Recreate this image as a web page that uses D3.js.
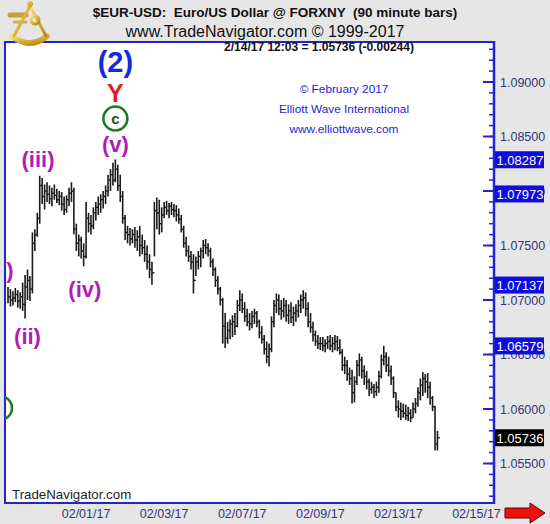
<!DOCTYPE html>
<html><head><meta charset="utf-8">
<script src="https://cdn.jsdelivr.net/npm/d3@7"></script>
<style>
html,body{margin:0;padding:0;background:#e6e6e6;}
svg{display:block;font-family:"Liberation Sans",Arial,sans-serif;}
</style></head>
<body>
<script>
// ---- DATA ----
const highs = [1.0712,1.0710,1.0708,1.0711,1.0709,1.0707,1.0716,1.0723,1.0728,1.0722,
1.0762,1.0765,1.0780,1.0814,1.0812,1.0806,1.0808,1.0805,1.0803,1.0806,
1.0802,1.0800,1.0799,1.0795,1.0796,1.0803,1.0808,1.0803,1.0770,1.0760,
1.0758,1.0752,1.0790,1.0780,1.0778,1.0785,1.0790,1.0795,1.0797,1.0800,
1.0805,1.0815,1.0820,1.0826,1.0829,1.0824,1.0815,1.0800,1.0778,1.0768,
1.0766,1.0765,1.0767,1.0764,1.0768,1.0760,1.0755,1.0750,1.0742,1.0735,
1.0790,1.0794,1.0792,1.0785,1.0790,1.0791,1.0789,1.0790,1.0788,1.0787,
1.0784,1.0778,1.0768,1.0758,1.0750,1.0745,1.0742,1.0740,1.0745,1.0748,
1.0755,1.0756,1.0752,1.0748,1.0738,1.0730,1.0722,1.0712,1.0702,1.0688,
1.0680,1.0682,1.0686,1.0688,1.0700,1.0709,1.0706,1.0698,1.0692,1.0688,
1.0690,1.0692,1.0690,1.0682,1.0676,1.0668,1.0662,1.0660,1.0685,1.0700,
1.0706,1.0705,1.0700,1.0702,1.0700,1.0696,1.0698,1.0694,1.0696,1.0700,
1.0705,1.0709,1.0707,1.0698,1.0688,1.0680,1.0672,1.0668,1.0666,1.0666,
1.0664,1.0667,1.0668,1.0666,1.0668,1.0667,1.0664,1.0655,1.0648,1.0645,
1.0638,1.0636,1.0630,1.0645,1.0651,1.0648,1.0640,1.0635,1.0628,1.0625,
1.0623,1.0625,1.0635,1.0650,1.0658,1.0652,1.0648,1.0640,1.0630,1.0615,
1.0608,1.0606,1.0605,1.0604,1.0602,1.0600,1.0606,1.0610,1.0620,1.0628,
1.0634,1.0632,1.0633,1.0625,1.0612,1.0603,1.0580];
const lows = [1.0697,1.0694,1.0695,1.0698,1.0693,1.0692,1.0690,1.0683,1.0700,1.0699,
1.0706,1.0745,1.0758,1.0770,1.0788,1.0783,1.0790,1.0788,1.0786,1.0792,
1.0789,1.0787,1.0782,1.0778,1.0780,1.0786,1.0790,1.0760,1.0745,1.0740,
1.0738,1.0731,1.0738,1.0762,1.0760,1.0765,1.0773,1.0778,1.0780,1.0784,
1.0788,1.0795,1.0800,1.0805,1.0808,1.0800,1.0790,1.0770,1.0755,1.0752,
1.0750,1.0752,1.0748,1.0745,1.0740,1.0742,1.0735,1.0728,1.0720,1.0714,
1.0740,1.0765,1.0760,1.0762,1.0775,1.0778,1.0775,1.0778,1.0776,1.0772,
1.0770,1.0762,1.0748,1.0740,1.0735,1.0728,1.0706,1.0722,1.0728,1.0730,
1.0738,1.0742,1.0740,1.0730,1.0722,1.0712,1.0705,1.0695,1.0660,1.0656,
1.0660,1.0664,1.0666,1.0668,1.0675,1.0690,1.0688,1.0680,1.0676,1.0672,
1.0674,1.0678,1.0675,1.0665,1.0660,1.0650,1.0642,1.0639,1.0652,1.0675,
1.0688,1.0686,1.0682,1.0684,1.0680,1.0678,1.0679,1.0676,1.0680,1.0684,
1.0688,1.0692,1.0685,1.0675,1.0670,1.0662,1.0658,1.0655,1.0654,1.0653,
1.0652,1.0655,1.0654,1.0652,1.0654,1.0653,1.0650,1.0635,1.0632,1.0626,
1.0622,1.0605,1.0606,1.0622,1.0630,1.0628,1.0622,1.0618,1.0612,1.0614,
1.0610,1.0612,1.0615,1.0628,1.0640,1.0634,1.0630,1.0622,1.0610,1.0598,
1.0592,1.0590,1.0592,1.0590,1.0589,1.0588,1.0592,1.0596,1.0602,1.0608,
1.0612,1.0615,1.0610,1.0604,1.0598,1.0562,1.0562];
const closes = [1.0703,1.0700,1.0702,1.0705,1.0699,1.0703,1.0696,1.0712,1.0718,1.0710,
1.0752,1.0760,1.0775,1.0805,1.0795,1.0800,1.0797,1.0793,1.0798,1.0796,
1.0792,1.0795,1.0788,1.0783,1.0792,1.0798,1.0800,1.0765,1.0752,1.0755,
1.0745,1.0740,1.0775,1.0770,1.0768,1.0780,1.0785,1.0788,1.0792,1.0795,
1.0800,1.0810,1.0815,1.0810,1.0820,1.0805,1.0795,1.0775,1.0762,1.0760,
1.0756,1.0760,1.0755,1.0758,1.0750,1.0748,1.0742,1.0735,1.0728,1.0725,
1.0782,1.0780,1.0770,1.0778,1.0785,1.0782,1.0786,1.0783,1.0782,1.0778,
1.0774,1.0765,1.0752,1.0745,1.0740,1.0735,1.0718,1.0735,1.0740,1.0745,
1.0750,1.0748,1.0745,1.0735,1.0728,1.0718,1.0710,1.0700,1.0676,1.0665,
1.0672,1.0678,1.0680,1.0676,1.0695,1.0700,1.0692,1.0685,1.0680,1.0678,
1.0685,1.0688,1.0680,1.0670,1.0664,1.0655,1.0648,1.0655,1.0680,1.0695,
1.0700,1.0692,1.0690,1.0695,1.0686,1.0690,1.0684,1.0688,1.0690,1.0695,
1.0700,1.0702,1.0692,1.0680,1.0675,1.0668,1.0662,1.0660,1.0660,1.0658,
1.0660,1.0662,1.0658,1.0660,1.0662,1.0656,1.0652,1.0640,1.0640,1.0632,
1.0628,1.0615,1.0625,1.0640,1.0645,1.0635,1.0630,1.0625,1.0618,1.0620,
1.0616,1.0620,1.0630,1.0645,1.0648,1.0640,1.0635,1.0628,1.0615,1.0602,
1.0600,1.0598,1.0596,1.0594,1.0596,1.0592,1.0600,1.0605,1.0615,1.0622,
1.0628,1.0625,1.0620,1.0610,1.0602,1.0568,1.05736];

const yTicks = [1.055,1.06,1.065,1.07,1.075,1.08,1.085,1.09];
const dateLabels = ["02/01/17","02/03/17","02/07/17","02/09/17","02/13/17","02/15/17"];
const dateBarIndex = [32,64,96,128,160,192];
const markValues = [1.08287,1.07973,1.07137,1.06579,1.05736];
const markColors = ["#0c0ce0","#0c0ce0","#0c0ce0","#0c0ce0","#000000"];
const waveLabels = ["(i)","(ii)","(iii)","(iv)","(v)"];
const waveBarIndex = [-2,8,12.3,31.5,44];
const waveValues = [1.0720,1.0660,1.0822,1.0703,1.0836];
const titleText = "$EUR-USD:  Euro/US Dollar @ FORXNY  (90 minute bars)";
const subtitleText = "www.TradeNavigator.com \u00A9 1999-2017";
const lastText = "2/14/17 12:03 = 1.05736 (-0.00244)";
const creditLines = ["\u00A9 February 2017","Elliott Wave International","www.elliottwave.com"];

// ---- LAYOUT ----
const W = 550, H = 524;
const plot = {left:5, top:42, right:494, bottom:503};
const svg = d3.select("body").append("svg").attr("width",W).attr("height",H);
svg.append("rect").attr("width",W).attr("height",H).attr("fill","#e6e6e6");

const x = d3.scaleLinear().domain([0,192]).range([8, 8+192*2.44]);
const y = d3.scaleLinear().domain([1.055,1.09]).range([463.5,82]);

const defs = svg.append("defs");
defs.append("clipPath").attr("id","clip").append("rect")
  .attr("x",plot.left).attr("y",plot.top).attr("width",plot.right-plot.left).attr("height",plot.bottom-plot.top);
const grad = defs.append("linearGradient").attr("id","gold").attr("x1",0).attr("y1",0).attr("x2",1).attr("y2",1);
grad.append("stop").attr("offset","0%").attr("stop-color","#f8e27a");
grad.append("stop").attr("offset","100%").attr("stop-color","#b8860b");

// plot background
svg.append("rect").attr("x",plot.left).attr("y",plot.top)
  .attr("width",plot.right-plot.left).attr("height",plot.bottom-plot.top)
  .attr("fill","#ffffff").attr("stroke","#2424c8").attr("stroke-width",2);

// logo (sextant)
const logo = svg.append("g").attr("fill","none").attr("stroke","url(#gold)").attr("stroke-linecap","round");
logo.append("path").attr("d","M12,36 Q30,50 47,36").attr("stroke-width",6);
logo.append("path").attr("d","M10,15 L26,15").attr("stroke-width",5).attr("stroke","#c8a030");
logo.append("path").attr("d","M14,22 L26,22").attr("stroke-width",3).attr("stroke","#d8b040");
logo.append("path").attr("d","M30,3 L30,42").attr("stroke-width",4);
logo.append("path").attr("d","M30,6 L46,36").attr("stroke-width",3);
logo.append("path").attr("d","M30,6 L14,36").attr("stroke-width",3);
logo.append("circle").attr("cx",35).attr("cy",20).attr("r",4).attr("stroke-width",3);
logo.append("circle").attr("cx",30).attr("cy",4).attr("r",2.5).attr("fill","#d8b040").attr("stroke-width",1);

// header text
svg.append("text").attr("x",275).attr("y",17).attr("text-anchor","middle")
  .attr("font-size",13.5).attr("font-weight","bold").attr("fill","#111")
  .style("white-space","pre").text(titleText);
svg.append("text").attr("x",265).attr("y",37).attr("text-anchor","middle")
  .attr("font-size",16).attr("fill","#111").text(subtitleText);

const g = svg.append("g").attr("clip-path","url(#clip)");

g.append("text").attr("x",319).attr("y",51).attr("text-anchor","middle")
  .attr("font-size",12).attr("font-weight","bold").attr("fill","#111").text(lastText);

// credits
creditLines.forEach((t,i)=>{
  g.append("text").attr("x",344).attr("y",93+i*20).attr("text-anchor","middle")
    .attr("font-size",11.8).attr("fill","#1c1ce0").text(t);
});

// bars
const idx = d3.range(highs.length);
const barG = g.append("g").attr("stroke","#1a1a1a").attr("stroke-width",1.6);
barG.selectAll("line.hl").data(idx).join("line").attr("class","hl")
  .attr("x1",i=>x(i)).attr("x2",i=>x(i))
  .attr("y1",i=>y(highs[i])).attr("y2",i=>y(lows[i]));
barG.selectAll("line.cl").data(idx).join("line").attr("class","cl")
  .attr("x1",i=>x(i)).attr("x2",i=>x(i)+2.4)
  .attr("y1",i=>y(closes[i])).attr("y2",i=>y(closes[i])).attr("stroke-width",1.4);

// wave labels
const waveG = g.append("g").attr("font-weight","bold").attr("fill","#b01cbc").attr("text-anchor","middle");
waveLabels.forEach((t,i)=>{
  waveG.append("text").attr("x",x(waveBarIndex[i])).attr("y",y(waveValues[i]))
    .attr("font-size",22).text(t);
});
// circle c, Y, (2)
const peakX = x(44);
g.append("circle").attr("cx",peakX).attr("cy",118.5).attr("r",12)
  .attr("fill","none").attr("stroke","#1e7a1e").attr("stroke-width",2.5);
g.append("text").attr("x",peakX).attr("y",123.5).attr("text-anchor","middle")
  .attr("font-size",15).attr("font-weight","bold").attr("fill","#1e5a1e").text("c");
g.append("text").attr("x",peakX).attr("y",102).attr("text-anchor","middle")
  .attr("font-size",25).attr("font-weight","bold").attr("fill","#e41e1e").text("Y");
g.append("text").attr("x",peakX).attr("y",72).attr("text-anchor","middle")
  .attr("font-size",29).attr("font-weight","bold").attr("fill","#1428e0").text("(2)");
// partial green circle at left edge
g.append("circle").attr("cx",0).attr("cy",408).attr("r",12)
  .attr("fill","none").attr("stroke","#1e7a1e").attr("stroke-width",2.5);

// footer text
svg.append("text").attr("x",12).attr("y",499).attr("font-size",13.3).attr("fill","#222").text("TradeNavigator.com");

// y axis
const axisColor = "#2424c8";
const minor = d3.range(1.052,1.0941,0.001).filter(v=>v>=1.0515&&v<=1.0935);
svg.append("g").selectAll("line").data(minor).join("line")
  .attr("x1",plot.right-5).attr("x2",plot.right).attr("y1",d=>y(d)).attr("y2",d=>y(d))
  .attr("stroke",axisColor).attr("stroke-width",1.5);
svg.append("g").selectAll("line").data(yTicks).join("line")
  .attr("x1",plot.right-11).attr("x2",plot.right).attr("y1",d=>y(d)).attr("y2",d=>y(d))
  .attr("stroke",axisColor).attr("stroke-width",2);
svg.append("line").attr("x1",plot.right).attr("x2",plot.right).attr("y1",plot.top-1).attr("y2",plot.bottom+1)
  .attr("stroke",axisColor).attr("stroke-width",2.5);
svg.append("g").selectAll("text").data(yTicks).join("text")
  .attr("x",500).attr("y",d=>y(d)+4.5).attr("font-size",12.5).attr("fill","#35357a")
  .text(d=>d.toFixed(5));

// highlighted value boxes
markValues.forEach((v,i)=>{
  svg.append("rect").attr("x",plot.right+1).attr("y",y(v)-8.5).attr("width",49).attr("height",17)
    .attr("fill",markColors[i]);
  svg.append("text").attr("x",plot.right+2.5).attr("y",y(v)+5).attr("font-size",13)
    .attr("fill","#ffffff").text(v.toFixed(5));
});

// x axis labels
svg.append("g").selectAll("text").data(dateLabels).join("text")
  .attr("x",(d,i)=>x(dateBarIndex[i])).attr("y",518).attr("text-anchor","middle")
  .attr("font-size",12.5).attr("fill","#35357a").text(d=>d);

// red arrow
svg.append("path").attr("d","M505,508 L530,508 L530,503 L545,513 L530,523 L530,518 L505,518 Z")
  .attr("fill","#f01010").attr("stroke","#600").attr("stroke-width",1);
</script>
</body></html>
